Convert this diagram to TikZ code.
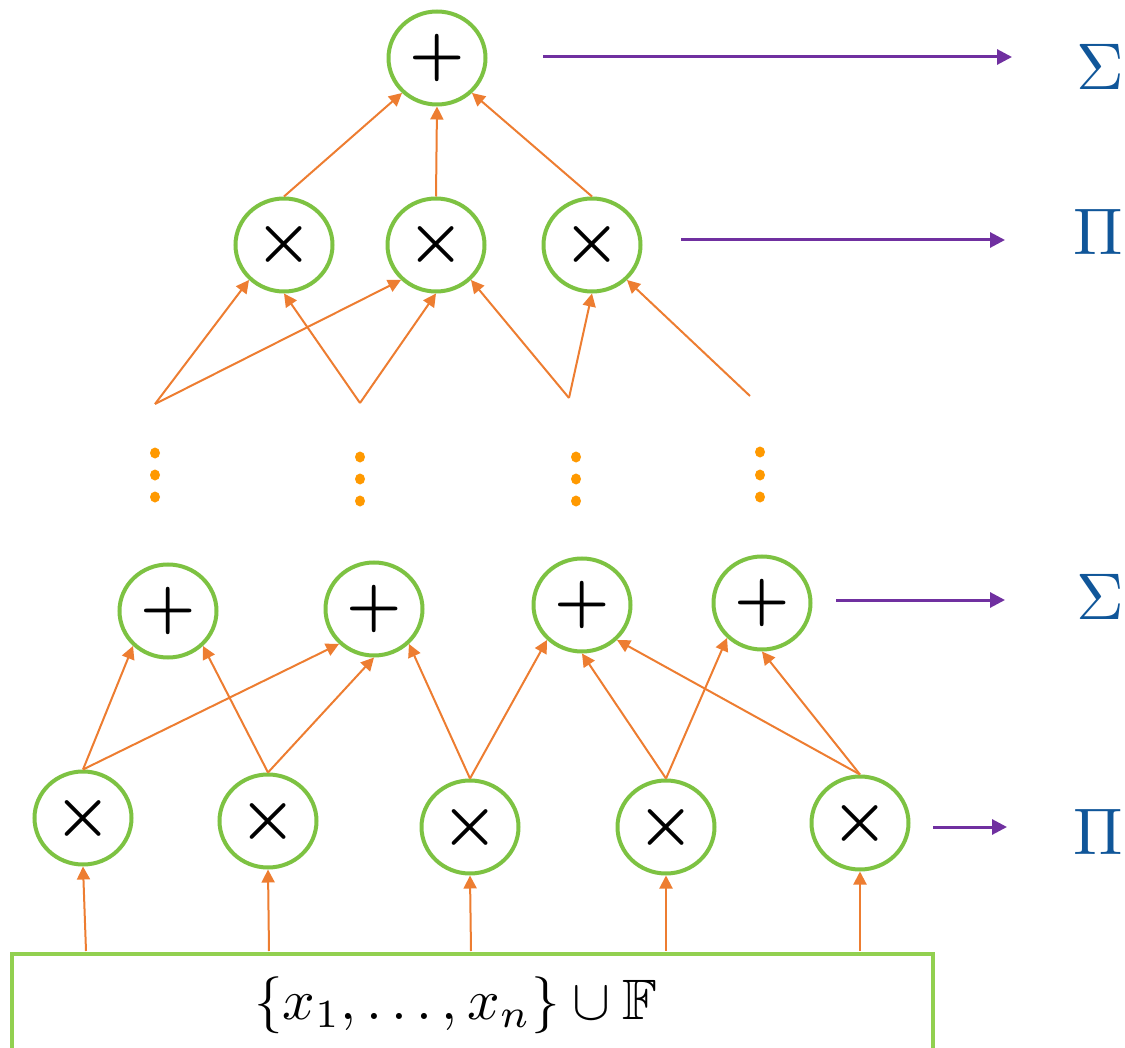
\documentclass[tikz,border=0pt]{standalone}
\usepackage{amssymb}
\usepackage{graphicx}
\usetikzlibrary{arrows.meta,shapes.geometric}
\definecolor{cgreen}{RGB}{125,194,66}
\definecolor{bgreen}{RGB}{146,208,80}
\definecolor{corange}{RGB}{237,125,49}
\definecolor{cdot}{RGB}{255,153,0}
\definecolor{cpurple}{RGB}{112,48,160}
\definecolor{cblue}{RGB}{16,86,153}
\newcommand{\opplus}{\scalebox{3.1}{\boldmath$+$}}
\newcommand{\optimes}{\scalebox{3.2}{\boldmath$\times$}}
\begin{document}
\begin{tikzpicture}[x=0.5pt,y=-0.5pt,
  opnode/.style={ellipse,draw=cgreen,line width=2pt,minimum width=48.5pt,minimum height=46.5pt,inner sep=0pt},
  edge/.style={draw=corange,line width=1pt,-{Triangle[length=6.5pt,width=6.5pt]}},
  outarrow/.style={draw=cpurple,line width=1.5pt,-{Triangle[length=7.5pt,width=7.5pt]}},
  lbl/.style={text=cblue,inner sep=0pt},
  vdot/.style={ellipse,fill=cdot,inner sep=0pt,minimum width=5pt,minimum height=5.5pt}]
\useasboundingbox (0,0) rectangle (1125,1048);

% operator nodes
\node[opnode] (top) at (437,58) {\opplus};
\node[opnode] (a1) at (284,245) {\optimes};
\node[opnode] (a2) at (436,245) {\optimes};
\node[opnode] (a3) at (592,245) {\optimes};
\node[opnode] (p1) at (168,611) {\opplus};
\node[opnode] (p2) at (374,609) {\opplus};
\node[opnode] (p3) at (582,605) {\opplus};
\node[opnode] (p4) at (762,603) {\opplus};
\node[opnode] (m1) at (83,818) {\optimes};
\node[opnode] (m2) at (268,821) {\optimes};
\node[opnode] (m3) at (470,827) {\optimes};
\node[opnode] (m4) at (666,827) {\optimes};
\node[opnode] (m5) at (860,823) {\optimes};

% input box
\node[draw=bgreen,line width=2pt,minimum width=460.5pt,minimum height=59pt,inner sep=0pt,anchor=north west] (box) at (10,952) {};
\node[inner sep=0pt] (set) at (456,1005) {\scalebox{2.85}{$\{x_1,\ldots,x_n\}\cup\mathbb{F}$}};

\coordinate (b1) at (86,951);
\coordinate (b2) at (269,951);
\coordinate (b3) at (471,951);
\coordinate (b4) at (666,951);
\coordinate (b5) at (860,951);

% apex points above the dots
\coordinate (A) at (155,404);
\coordinate (B) at (360,403);
\coordinate (C) at (569,398);
\coordinate (D) at (750,396);

% vertical dots
\node[vdot] (d11) at (155,453) {};
\node[vdot] (d12) at (155,475) {};
\node[vdot] (d13) at (155,497) {};
\node[vdot] (d21) at (360,457) {};
\node[vdot] (d22) at (360,479) {};
\node[vdot] (d23) at (360,501) {};
\node[vdot] (d31) at (576,457) {};
\node[vdot] (d32) at (576,479) {};
\node[vdot] (d33) at (576,501) {};
\node[vdot] (d41) at (760,452) {};
\node[vdot] (d42) at (760,475) {};
\node[vdot] (d43) at (760,497) {};

% edges: top level
\draw[edge] (a1.north) -- (top.225);
\draw[edge] (a2.north) -- (top.270);
\draw[edge] (a3.north) -- (top.315);
% edges from the apex points
\draw[edge] (A) -- (a1.225);
\draw[edge] (A) -- (a2.225);
\draw[edge] (B) -- (a1.270);
\draw[edge] (B) -- (a2.270);
\draw[edge] (C) -- (a2.315);
\draw[edge] (C) -- (a3.270);
\draw[edge] (D) -- (a3.315);
% edges: bottom products to sums
\draw[edge] (m1.north) -- (p1.225);
\draw[edge] (m1.north) -- (p2.225);
\draw[edge] (m2.north) -- (p1.315);
\draw[edge] (m2.north) -- (p2.270);
\draw[edge] (m3.north) -- (p2.315);
\draw[edge] (m3.north) -- (p3.225);
\draw[edge] (m4.north) -- (p3.270);
\draw[edge] (m4.north) -- (p4.225);
\draw[edge] (m5.north) -- (p3.315);
\draw[edge] (m5.north) -- (p4.270);
% edges: inputs
\draw[edge] (b1) -- (m1.south);
\draw[edge] (b2) -- (m2.south);
\draw[edge] (b3) -- (m3.south);
\draw[edge] (b4) -- (m4.south);
\draw[edge] (b5) -- (m5.south);

% layer arrows and labels
\coordinate (s1) at (543,57);  \coordinate (e1) at (1012,57);
\coordinate (s2) at (681,240); \coordinate (e2) at (1005,240);
\coordinate (s3) at (836,600); \coordinate (e3) at (1005,600);
\coordinate (s4) at (933,827); \coordinate (e4) at (1007,827);
\draw[outarrow] (s1) -- (e1);
\draw[outarrow] (s2) -- (e2);
\draw[outarrow] (s3) -- (e3);
\draw[outarrow] (s4) -- (e4);
\node[lbl] (L1) at (1100,67) {\scalebox{3.3}{$\Sigma$}};
\node[lbl] (L2) at (1098,232) {\scalebox{3.3}{$\Pi$}};
\node[lbl] (L3) at (1100,597) {\scalebox{3.3}{$\Sigma$}};
\node[lbl] (L4) at (1098,832) {\scalebox{3.3}{$\Pi$}};
\end{tikzpicture}
\end{document}
